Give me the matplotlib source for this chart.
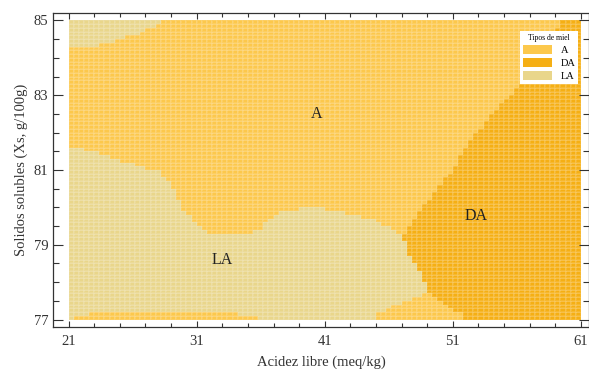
import numpy as np
import matplotlib.pyplot as plt
from matplotlib.colors import ListedColormap
from matplotlib.patches import Patch
from matplotlib.path import Path

plt.rcParams['font.family'] = ['Liberation Serif', 'DejaVu Serif']

# honey classes and their colours
classes = ['A', 'DA', 'LA']
colors = ['#fcc84c', '#f5af14', '#e9d68b']

# prediction grid: free acidity (x) and soluble solids (y)
x_edges = np.linspace(21, 61, 101)
y_edges = np.linspace(77, 85, 81)

# region outlines (x, y)
la_top = [(20.9, 85.1), (28.6, 85.1), (27.8, 84.85), (26.6, 84.67), (25.0, 84.49),
          (23.0, 84.3), (20.9, 84.25)]
la_main = [(20.9, 81.66), (23.1, 81.47), (24.7, 81.28), (26.6, 81.1), (28.2, 80.93),
           (28.8, 80.67), (29.3, 80.4), (29.9, 79.95), (30.5, 79.76), (31.0, 79.5),
           (31.5, 79.41), (32.6, 79.25), (34.6, 79.25), (35.9, 79.41), (36.9, 79.73),
           (37.7, 79.87), (38.8, 79.95), (41.2, 79.95), (43.7, 79.76), (45.0, 79.68),
           (45.8, 79.5), (46.6, 79.33), (47.1, 79.14), (47.4, 78.88), (47.8, 78.6),
           (48.4, 78.26), (48.9, 77.89), (49.0, 77.73), (47.6, 77.54), (46.3, 77.35),
           (45.0, 77.14), (44.7, 76.9), (20.9, 76.9)]
da_right = [(61.1, 85.1), (59.8, 85.1), (59.05, 84.76), (56.7, 83.42), (55.4, 82.97),
            (54.6, 82.7), (53.8, 82.43), (53.1, 82.09), (52.3, 81.74), (51.5, 81.36),
            (51.0, 81.0), (50.2, 80.75), (49.7, 80.4), (48.9, 80.13), (48.2, 79.76),
            (47.5, 79.5), (47.1, 79.22), (47.4, 78.88), (47.8, 78.6), (48.4, 78.26),
            (48.9, 77.89), (49.0, 77.73), (49.7, 77.6), (50.7, 77.35), (51.7, 77.14),
            (52.0, 76.9), (61.1, 76.9)]
a_strip = [(21.4, 76.9), (21.4, 77.08), (22.3, 77.12), (23.5, 77.22), (34.0, 77.22),
           (34.2, 77.12), (35.7, 77.12), (35.7, 76.9)]

# label positions
region_labels = ['A', 'LA', 'DA']
label_x = [40.4, 33.0, 52.8]
label_y = [82.5, 78.6, 79.76]

xc = (x_edges[:-1] + x_edges[1:]) / 2
yc = (y_edges[:-1] + y_edges[1:]) / 2
gx, gy = np.meshgrid(xc, yc)
pts = np.column_stack([gx.ravel(), gy.ravel()])

cls = np.zeros(len(pts), dtype=int)
for poly, k in [(la_top, 2), (la_main, 2), (da_right, 1), (a_strip, 0)]:
    cls[Path(poly).contains_points(pts)] = k
cls = cls.reshape(gx.shape)

fig = plt.figure(figsize=(5.89, 3.72), dpi=100)
ax = fig.add_axes([0.0905, 0.121, 0.9095, 0.844])

ax.pcolormesh(x_edges, y_edges, cls, cmap=ListedColormap(colors), vmin=-0.5, vmax=2.5,
              edgecolors=(1, 1, 1, 0.12), linewidth=0.3)

for t, x, y in zip(region_labels, label_x, label_y):
    ax.text(x, y, t, ha='center', va='center', fontsize=11.5, color='#222222')

ax.set_xlim(19.81, 61.63)
ax.set_ylim(76.8, 85.2)
ax.set_xticks([21, 31, 41, 51, 61])
ax.set_yticks([77, 79, 81, 83, 85])
ax.set_xticks(np.arange(21, 62, 2), minor=True)
ax.set_yticks(np.arange(77, 85.1, 0.5), minor=True)
ax.tick_params(which='both', direction='in', top=True, right=True, labelsize=10.5,
               colors='#333333', width=0.8)
ax.tick_params(axis='y', which='major', length=7)
ax.tick_params(axis='y', which='minor', length=4.3)
ax.tick_params(axis='x', which='major', length=4)
ax.tick_params(axis='x', which='minor', length=2.8)
ax.tick_params(axis='x', pad=6)
for s in ax.spines.values():
    s.set_color('#333333')
    s.set_linewidth(0.9)

ax.set_xlabel('Acidez libre (meq/kg)', fontsize=10.5, color='#333333', labelpad=5)
ax.set_ylabel('Solidos solubles (Xs, g/100g)', fontsize=10.5, color='#333333')

handles = [Patch(facecolor=c, edgecolor='none') for c in colors]
leg = ax.legend(handles, classes, title='Tipos de miel', loc='upper right',
                bbox_to_anchor=(0.99, 0.96), fontsize=7.5, title_fontsize=5.5,
                frameon=True, fancybox=False, edgecolor='none', framealpha=1,
                handlelength=2.8, handleheight=0.9, labelspacing=0.3,
                borderpad=0.3, handletextpad=0.8)
leg.get_frame().set_linewidth(0)

fig.savefig('out.png', dpi=100)
